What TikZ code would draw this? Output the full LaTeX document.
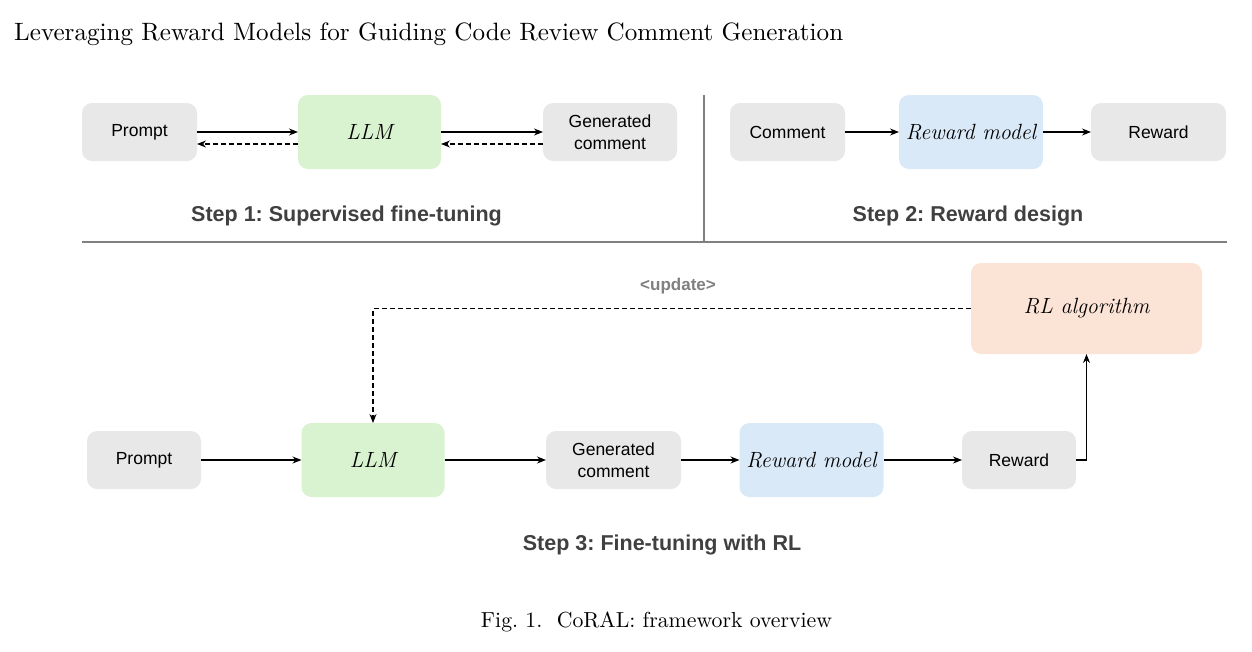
\documentclass[tikz,border=0pt]{standalone}
\usepackage{fontspec}
\newfontfamily\boxfont{Liberation Sans}
\usetikzlibrary{arrows.meta,positioning}
\definecolor{boxgray}{HTML}{E8E8E8}
\definecolor{boxgreen}{HTML}{D9F2D0}
\definecolor{boxblue}{HTML}{DAE9F7}
\definecolor{boxpeach}{HTML}{FBE3D6}
\definecolor{divgray}{HTML}{808080}
\definecolor{labgray}{HTML}{404040}
\frenchspacing
\begin{document}
\begin{tikzpicture}[x=1pt,y=-1pt,
  basebox/.style={rounded corners=10pt, inner sep=0pt, outer sep=0pt, align=center},
  gbox/.style={basebox, fill=boxgray, minimum height=58pt, font=\boxfont\fontsize{17.5}{22}\selectfont},
  itfont/.style={font=\itshape\fontsize{22}{26}\selectfont},
  llmbox/.style={basebox, itfont, fill=boxgreen, minimum width=143pt, minimum height=74pt},
  rmbox/.style={basebox, itfont, fill=boxblue, minimum width=144pt, minimum height=74pt},
  rlbox/.style={basebox, itfont, fill=boxpeach, minimum width=231pt, minimum height=91pt},
  arr/.style={-{Stealth[length=9pt,width=7pt]}, line width=1.1pt, black},
  darr/.style={arr, dash pattern=on 5pt off 3pt},
  divider/.style={draw=divgray, line width=2pt},
  steplab/.style={anchor=base, text=labgray, font=\boxfont\bfseries\fontsize{21.5}{25}\selectfont},
]
\useasboundingbox (0,0) rectangle (1252,651);

% title
\node[anchor=base west, inner sep=0pt] (title) at (14,40) {\resizebox{829pt}{!}{Leveraging Reward Models for Guiding Code Review Comment Generation}};

% Step 1
\node[gbox, minimum width=115pt] (p1) at (139.5,132) {Prompt};
\node[llmbox] (llm1) at (369.5,132) {LLM};
\node[gbox, minimum width=134pt] (gc1) at (610,132) {Generated\\comment};
\draw[arr] (p1.east) -- (llm1.west);
\draw[darr] ([yshift=-12pt]llm1.west) -- ([yshift=-12pt]p1.east);
\draw[arr] (llm1.east) -- (gc1.west);
\draw[darr] ([yshift=-12pt]gc1.west) -- ([yshift=-12pt]llm1.east);
\node[steplab] (s1) at (346.5,221) {Step 1: Supervised fine-tuning};

% Step 2
\node[gbox, minimum width=115pt] (c2) at (787.5,132) {Comment};
\node[rmbox] (rm2) at (971,132) {Reward model};
\node[gbox, minimum width=135pt] (r2) at (1158.5,132) {Reward};
\draw[arr] (c2.east) -- (rm2.west);
\draw[arr] (rm2.east) -- (r2.west);
\node[steplab] (s2) at (968,221) {Step 2: Reward design};

% dividers
\draw[divider] (704,95) -- (704,242);
\draw[divider] (82,242) -- (1227,242);

% Step 3
\node[gbox, minimum width=114pt] (p3) at (144,460) {Prompt};
\node[llmbox] (llm3) at (373,460) {LLM};
\node[gbox, minimum width=135pt] (gc3) at (613.5,460) {Generated\\comment};
\node[rmbox] (rm3) at (811.5,460) {Reward model};
\node[gbox, minimum width=114pt] (r3) at (1019,460) {Reward};
\node[rlbox] (rl3) at (1086.5,308.5) {RL algorithm};
\draw[arr] (p3.east) -- (llm3.west);
\draw[arr] (llm3.east) -- (gc3.west);
\draw[arr] (gc3.east) -- (rm3.west);
\draw[arr] (rm3.east) -- (r3.west);
\draw[arr] (r3.east) -| (rl3.south);
\draw[darr] (rl3.west) -| (llm3.north);
\node[anchor=base, inner sep=0pt, text=divgray, font=\boxfont\bfseries\fontsize{17}{20}\selectfont] (upd) at (678,290) {<update>};
\node[steplab] (s3) at (662,550) {Step 3: Fine-tuning with RL};

% caption
\node[anchor=base, inner sep=0pt] (cap) at (656.5,627) {\resizebox{351pt}{!}{Fig. 1.\ \ CoRAL: framework overview}};
\end{tikzpicture}
\end{document}
